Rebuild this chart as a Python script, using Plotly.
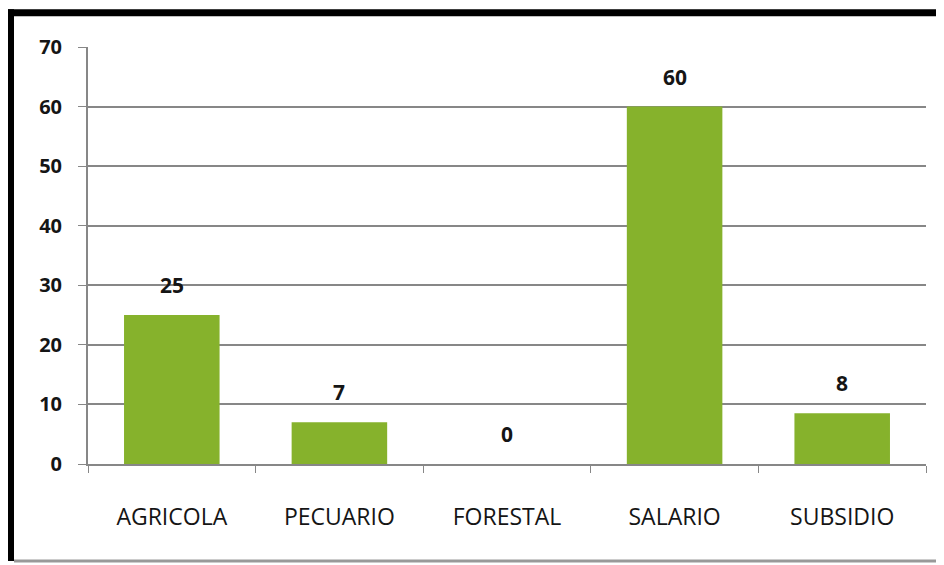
import plotly.graph_objects as go

# Chart data
categories = ["AGRICOLA", "PECUARIO", "FORESTAL", "SALARIO", "SUBSIDIO"]
values = [25, 7, 0, 60, 8.5]
value_labels = ["25", "7", "0", "60", "8"]
y_ticks = [0, 10, 20, 30, 40, 50, 60, 70]

bar_color = "#86B22C"
grid_color = "#878787"
text_color = "#151515"

fig = go.Figure()

fig.add_trace(go.Bar(
	x=categories,
	y=values,
	marker=dict(color=bar_color, line=dict(width=0)),
	hoverinfo="x+y",
))

# Data labels sit a fair bit above each bar, like the Excel original
for cat, val, lab in zip(categories, values, value_labels):
	fig.add_annotation(
		x=cat, y=val, text="<b>" + lab + "</b>",
		showarrow=False, yshift=30,
		font=dict(family="Open Sans", size=21, color=text_color),
	)

# page body has an 8px margin, so the figure is a bit smaller than the window
fig.update_layout(
	width=936,
	height=557,
	margin=dict(l=80, r=18, t=39, b=101),
	paper_bgcolor="white",
	plot_bgcolor="white",
	bargap=0.43,
	showlegend=False,
	font=dict(family="Open Sans", color=text_color),
)

fig.update_yaxes(
	range=[0, 70],
	tickvals=y_ticks,
	tickfont=dict(family="Open Sans", size=20, color=text_color, weight="bold"),
	showgrid=True,
	gridcolor=grid_color,
	gridwidth=2,
	showline=True,
	linecolor=grid_color,
	linewidth=2,
	ticks="outside",
	ticklen=8,
	tickcolor=grid_color,
	ticklabelstandoff=12,
	zeroline=False,
)

fig.update_xaxes(
	tickfont=dict(family="Open Sans", size=23, color=text_color, weight=500),
	showline=True,
	linecolor=grid_color,
	linewidth=2,
	ticks="outside",
	tickson="boundaries",
	ticklen=7,
	tickcolor=grid_color,
	ticklabelstandoff=31,
)

# Black frame on top and left, thin grey line at the bottom
fig.add_shape(type="rect", xref="paper", yref="paper",
	x0=-0.0967, x1=1.03, y0=1.0736, y1=1.0903,
	fillcolor="black", line=dict(width=0), layer="above")
fig.add_shape(type="rect", xref="paper", yref="paper",
	x0=-0.0967, x1=-0.0883, y0=-0.2324, y1=1.0903,
	fillcolor="black", line=dict(width=0), layer="above")
fig.add_shape(type="line", xref="paper", yref="paper",
	x0=-0.0883, x1=1.03, y0=-0.2324, y1=-0.2324,
	line=dict(color="#999999", width=3), layer="above")

fig.write_html("out.html")
